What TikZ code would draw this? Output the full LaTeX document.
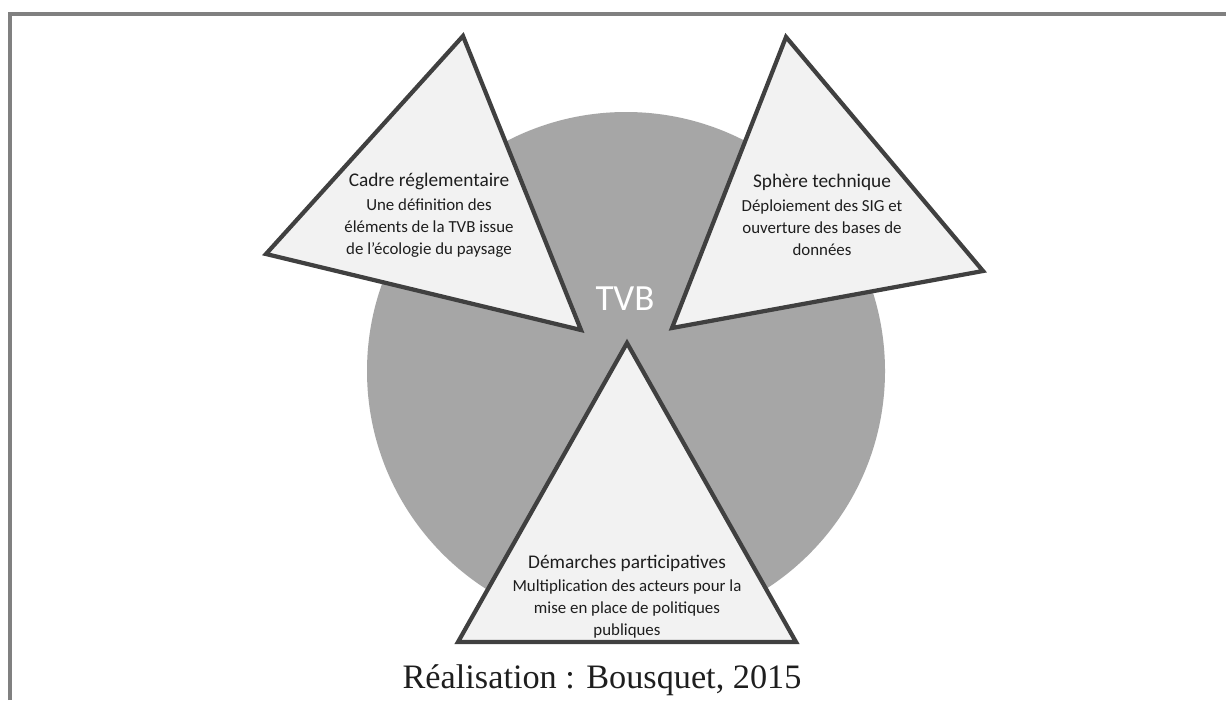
\documentclass[tikz,border=0pt]{standalone}
\usepackage{fontspec}
\setmainfont{Liberation Serif}
\newfontfamily\calib{Carlito}
\definecolor{framegray}{RGB}{128,128,128}
\definecolor{circgray}{RGB}{166,166,166}
\definecolor{trifill}{RGB}{242,242,242}
\definecolor{tristroke}{RGB}{64,64,64}
\definecolor{txt}{RGB}{30,30,30}
\tikzset{
  tri/.style={fill=trifill,draw=tristroke,line width=2.4pt,line join=miter},
  ttitle/.style={font=\calib\fontsize{11}{13}\selectfont,text=txt,inner sep=0pt},
  tbody/.style={font=\calib\fontsize{9.6}{12.6}\selectfont,text=txt,align=center,inner sep=0pt,anchor=north},
}
\begin{document}
\begin{tikzpicture}[x=0.02cm,y=-0.02cm]
\useasboundingbox (0,0) rectangle (1226,700);
\fill[white] (0,0) rectangle (1226,700);
% frame (only top and left visible)
\draw[framegray,line width=2.3pt] (10,700) -- (10,14) -- (1226,14);
% circle
\fill[circgray] (626,371) circle (259);
\node[font=\calib\fontsize{21}{24}\selectfont,text=white,inner sep=0pt] (tvb) at (625,299) {TVB};
% left triangle
\coordinate (L1) at (463,36);
\coordinate (L2) at (266,254);
\coordinate (L3) at (581,330);
\draw[tri] (L1) -- (L2) -- (L3) -- cycle;
% right triangle
\coordinate (R1) at (786,37);
\coordinate (R2) at (983,271);
\coordinate (R3) at (672,328);
\draw[tri] (R1) -- (R2) -- (R3) -- cycle;
% bottom triangle
\coordinate (B1) at (627,343);
\coordinate (B2) at (796,642);
\coordinate (B3) at (458,642);
\draw[tri] (B1) -- (B2) -- (B3) -- cycle;
% texts
\node[ttitle] (lt) at (429,181) {Cadre réglementaire};
\node[tbody] (lb) at (429,198) {Une définition des\\éléments de la TVB issue\\de l’écologie du paysage};
\node[ttitle] (rt) at (822,182) {Sphère technique};
\node[tbody] (rb) at (822,199) {Déploiement des SIG et\\ouverture des bases de\\données};
\node[ttitle] (bt) at (627,563) {Démarches participatives};
\node[tbody] (bb) at (627,579) {Multiplication des acteurs pour la\\mise en place de politiques\\publiques};
% caption
\node[font=\fontsize{19.5}{22}\selectfont,text=txt,inner sep=0pt] (cap) at (602,680) {Réalisation : Bousquet, 2015};
\end{tikzpicture}
\end{document}
